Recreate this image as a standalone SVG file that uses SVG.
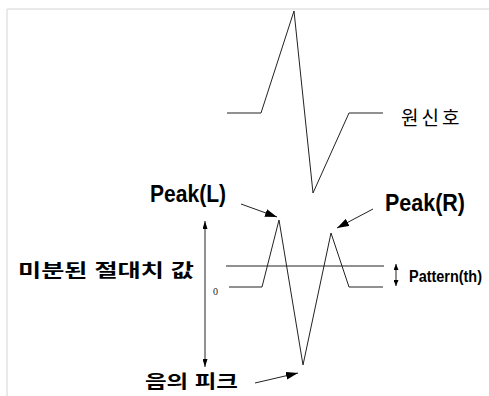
<svg xmlns="http://www.w3.org/2000/svg" width="489" height="396" viewBox="0 0 489 396">
<style>
.sig{fill:none;stroke:#222;stroke-width:1}
.ptr{fill:none;stroke:#222;stroke-width:1}
.lbl{font-family:"Liberation Sans","Noto Sans CJK KR",sans-serif;fill:#000}
.b{font-weight:bold}
</style>
<defs>
<marker id="big" viewBox="0 0 12 8" refX="12" refY="4" markerWidth="12" markerHeight="8" markerUnits="userSpaceOnUse" orient="auto">
<path d="M0,0 L12,4 L0,8 Z" fill="#000"/>
</marker>
<marker id="sm" viewBox="0 0 8 5" refX="8" refY="2.5" markerWidth="8" markerHeight="5" markerUnits="userSpaceOnUse" orient="auto-start-reverse">
<path d="M0,0 L8,2.5 L0,5 Z" fill="#000"/>
</marker>
<marker id="xs" viewBox="0 0 6 5" refX="6" refY="2.5" markerWidth="6" markerHeight="5" markerUnits="userSpaceOnUse" orient="auto-start-reverse">
<path d="M0,0 L6,2.5 L0,5 Z" fill="#000"/>
</marker>
</defs>
<g id="frame">
<path d="M7,396 V9 H489" fill="none" stroke="#d4d4d4" stroke-width="1"/>
</g>
<g id="original-signal">
<polyline class="sig" points="227,113 261,113 294,11 313,193 349,113 383,113"/>
<text class="lbl" x="401" y="125" font-size="19" letter-spacing="3">원신호</text>
</g>
<g id="derivative-signal">
<line class="sig" x1="226" y1="266" x2="384" y2="266"/>
<polyline class="sig" points="229,287 262,287 279,220 303,365 331,233 349,287 383,287"/>
<text x="213" y="295" font-family="Liberation Serif,serif" font-size="10" fill="#222">0</text>
</g>
<g id="label-peakL">
<text class="lbl b" x="150" y="202" font-size="24" textLength="76" lengthAdjust="spacingAndGlyphs">Peak(L)</text>
</g>
<g id="label-peakR">
<text class="lbl b" x="385" y="211" font-size="24" textLength="80" lengthAdjust="spacingAndGlyphs">Peak(R)</text>
</g>
<g id="label-pattern">
<text class="lbl b" x="409" y="282" font-size="16" textLength="73" lengthAdjust="spacingAndGlyphs">Pattern(th)</text>
</g>
<g id="label-abs">
<text class="lbl b" x="18" y="277" font-size="18" textLength="176" lengthAdjust="spacingAndGlyphs">미분된 절대치 값</text>
</g>
<g id="label-neg">
<text class="lbl b" x="145" y="388" font-size="18" textLength="93" lengthAdjust="spacingAndGlyphs">음의 피크</text>
</g>
<g id="connectors">
<line class="ptr" x1="241" y1="204" x2="277" y2="217" marker-end="url(#big)"/>
<line class="ptr" x1="373" y1="209" x2="337" y2="228" marker-end="url(#big)"/>
<line class="ptr" x1="255" y1="383" x2="298" y2="373" marker-end="url(#big)"/>
<line class="ptr" x1="205" y1="221" x2="205" y2="367" marker-start="url(#sm)" marker-end="url(#sm)"/>
<line class="ptr" x1="396" y1="264" x2="396" y2="286" marker-start="url(#xs)" marker-end="url(#xs)"/>
</g>
</svg>
